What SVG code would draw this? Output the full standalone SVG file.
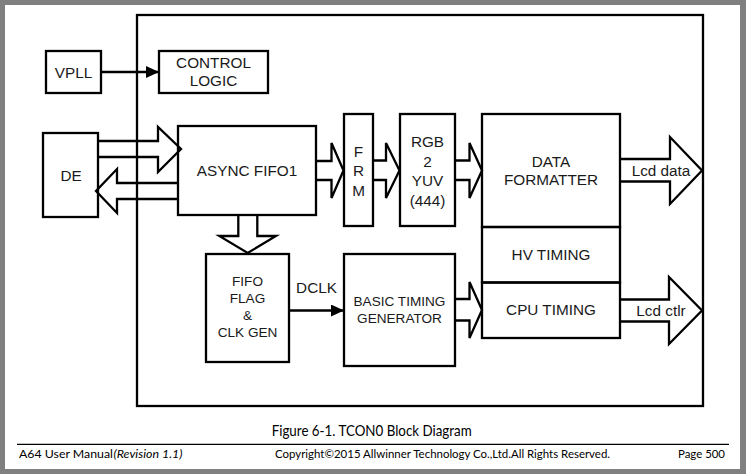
<svg xmlns="http://www.w3.org/2000/svg" width="746" height="474" viewBox="0 0 746 474">
<style>
.bx{fill:none;stroke:#000;stroke-width:2.3}
.ln{fill:none;stroke:#000;stroke-width:2.3}
.fat{fill:none;stroke:#000;stroke-width:2.3;stroke-linejoin:miter}
.t{font-family:"Liberation Sans",Arial,sans-serif;font-size:15.3px;fill:#1a1a1a;text-anchor:middle;dominant-baseline:central}
.s{font-size:13.6px}
.c{font-family:Lato,"Liberation Sans",sans-serif;fill:#000}
</style>
<defs>
<marker id="ah" viewBox="0 0 13 12" refX="13" refY="6" markerWidth="13" markerHeight="12" markerUnits="userSpaceOnUse" orient="auto">
<path d="M0,0 L13,6 L0,12 Z" fill="#000"/>
</marker>
</defs>
<rect x="0" y="0" width="746" height="474" fill="#808080"/>
<rect x="5" y="5" width="735" height="464" fill="#fff"/>

<g id="outer"><rect class="bx" x="137" y="15" width="566" height="391"/></g>

<g id="vpll"><rect class="bx" x="46" y="51" width="55" height="42"/><text class="t" x="73.5" y="72">VPLL</text></g>
<g id="control-logic"><rect class="bx" x="159" y="51" width="109" height="42"/><text class="t" x="213.5" y="62.5">CONTROL</text><text class="t" x="213.5" y="80.5">LOGIC</text></g>
<g id="de"><rect class="bx" x="43" y="133" width="55" height="84"/><text class="t" x="71" y="175">DE</text></g>
<g id="async-fifo1"><rect class="bx" x="178" y="126" width="138" height="89"/><text class="t" x="247" y="170">ASYNC FIFO1</text></g>
<g id="frm"><rect class="bx" x="344" y="114" width="29" height="112"/><text class="t" x="358.5" y="151">F</text><text class="t" x="358.5" y="170.5">R</text><text class="t" x="358.5" y="190">M</text></g>
<g id="rgb2yuv"><rect class="bx" x="400" y="114" width="55" height="112"/><text class="t" x="427.5" y="141.5">RGB</text><text class="t" x="427.5" y="161">2</text><text class="t" x="427.5" y="180.5">YUV</text><text class="t" x="427.5" y="200">(444)</text></g>
<g id="data-formatter"><rect class="bx" x="482" y="114" width="138" height="113"/><text class="t" x="551" y="161">DATA</text><text class="t" x="551" y="179">FORMATTER</text></g>
<g id="hv-timing"><rect class="bx" x="482" y="227" width="138" height="55.5"/><text class="t" x="551" y="254">HV TIMING</text></g>
<g id="cpu-timing"><rect class="bx" x="482" y="282.5" width="138" height="55.5"/><text class="t" x="551" y="309.5">CPU TIMING</text></g>
<g id="fifo-flag"><rect class="bx" x="206" y="254" width="83" height="108"/><text class="t s" x="247.5" y="281.5">FIFO</text><text class="t s" x="247.5" y="298.5">FLAG</text><text class="t s" x="247.5" y="315.5">&amp;</text><text class="t s" x="247.5" y="332.5">CLK GEN</text></g>
<g id="basic-timing"><rect class="bx" x="344" y="254" width="111" height="112"/><text class="t s" x="399.5" y="301.5">BASIC TIMING</text><text class="t s" x="399.5" y="318.5">GENERATOR</text></g>

<g id="connectors">
<line class="ln" x1="101" y1="72" x2="159" y2="72" marker-end="url(#ah)"/>
<line class="ln" x1="289" y1="310.5" x2="344" y2="310.5" marker-end="url(#ah)"/>
<text class="t" x="316.5" y="287.5">DCLK</text>
<path class="fat" d="M98,141 L158,141 L158,127 L181,149 L158,172 L158,157 L98,157"/>
<path class="fat" d="M178,183 L117,183 L117,169 L96,191 L117,213 L117,199 L178,199"/>
<path class="fat" d="M316,161 L331.5,161 L331.5,143 L343.5,170.5 L331.5,198 L331.5,180 L316,180"/>
<path class="fat" d="M373,160.5 L386,160.5 L386,143 L399.5,170.5 L386,198 L386,180 L373,180"/>
<path class="fat" d="M455,160.5 L469.5,160.5 L469.5,143 L482,170.5 L469.5,198 L469.5,180 L455,180"/>
<path class="fat" d="M620,159 L670,159 L670,137 L702,170.5 L670,204 L670,181.5 L620,181.5"/>
<text class="t" x="661" y="170.5">Lcd data</text>
<path class="fat" d="M620,299.5 L669,299.5 L669,277 L702,310.5 L669,344 L669,321.5 L620,321.5"/>
<text class="t" x="661" y="310.5">Lcd ctlr</text>
<path class="fat" d="M455,299 L469.5,299 L469.5,282 L482,310 L469.5,338 L469.5,320.5 L455,320.5"/>
<path class="fat" d="M238.3,215 L238.3,236 L219.3,236 L247.7,253 L276,236 L257.3,236 L257.3,215"/>
</g>

<g id="caption">
<text class="c" x="271.7" y="436" font-size="15" textLength="200" lengthAdjust="spacingAndGlyphs">Figure 6-1. TCON0 Block Diagram</text>
<line x1="17" y1="444.3" x2="729" y2="444.3" stroke="#000" stroke-width="1.2"/>
<text class="c" x="19" y="457.5" font-size="12" textLength="94" lengthAdjust="spacingAndGlyphs">A64 User Manual</text>
<text class="c" x="113.5" y="457.5" font-size="12" font-style="italic" textLength="69" lengthAdjust="spacingAndGlyphs">(Revision 1.1)</text>
<text class="c" x="275" y="457.5" font-size="12" textLength="335" lengthAdjust="spacingAndGlyphs">Copyright©2015 Allwinner Technology Co.,Ltd.All Rights Reserved.</text>
<text class="c" x="678" y="457.5" font-size="12" textLength="47" lengthAdjust="spacingAndGlyphs">Page 500</text>
</g>
</svg>
